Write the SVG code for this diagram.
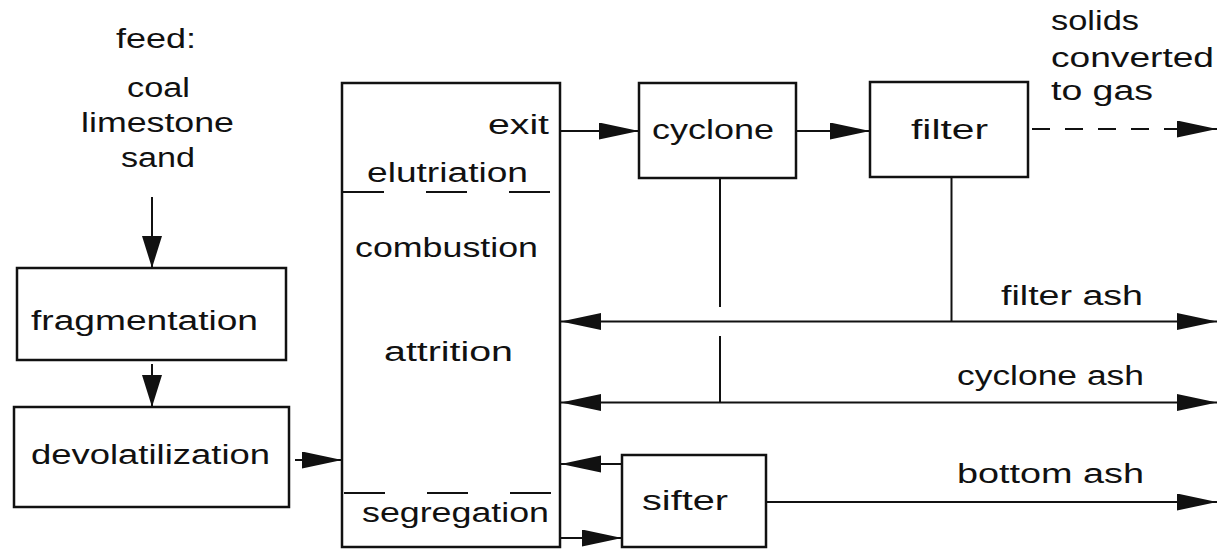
<svg xmlns="http://www.w3.org/2000/svg" width="1219" height="549" viewBox="0 0 1219 549">
<style>
text{font-family:"Liberation Sans",Arial,sans-serif;font-size:27px;fill:#111}
.box{fill:none;stroke:#111;stroke-width:2.5}
.ln{fill:none;stroke:#111;stroke-width:2}
.dash{fill:none;stroke:#111;stroke-width:2;stroke-dasharray:41 42}
</style>
<defs>
<marker id="ah" markerUnits="userSpaceOnUse" markerWidth="42" markerHeight="18" refX="40" refY="8.5" orient="auto-start-reverse"><path d="M0,0 L40,8.5 L0,17 z" fill="#111"/></marker>
<marker id="av" markerUnits="userSpaceOnUse" markerWidth="34" markerHeight="22" refX="32" refY="10" orient="auto"><path d="M0,0 L32,10 L0,20 z" fill="#111"/></marker>
</defs>
<g id="feed">
<text x="116" y="48" textLength="80" lengthAdjust="spacingAndGlyphs">feed:</text>
<text x="127" y="97" textLength="63" lengthAdjust="spacingAndGlyphs">coal</text>
<text x="81" y="132" textLength="153" lengthAdjust="spacingAndGlyphs">limestone</text>
<text x="121" y="167" textLength="74" lengthAdjust="spacingAndGlyphs">sand</text>
</g>
<g id="fragmentation">
<rect class="box" x="17" y="268" width="269" height="92"/>
<text x="31" y="330" textLength="227" lengthAdjust="spacingAndGlyphs">fragmentation</text>
</g>
<g id="devolatilization">
<rect class="box" x="14" y="407" width="275" height="100"/>
<text x="31" y="464" textLength="239" lengthAdjust="spacingAndGlyphs">devolatilization</text>
</g>
<g id="bed">
<rect class="box" x="342" y="83" width="218" height="464"/>
<text x="488" y="134" textLength="61" lengthAdjust="spacingAndGlyphs">exit</text>
<text x="367" y="182" textLength="161" lengthAdjust="spacingAndGlyphs">elutriation</text>
<line class="dash" x1="343" y1="192" x2="551" y2="192"/>
<text x="355" y="257" textLength="183" lengthAdjust="spacingAndGlyphs">combustion</text>
<text x="384" y="361" textLength="129" lengthAdjust="spacingAndGlyphs">attrition</text>
<line class="dash" x1="344" y1="493" x2="551" y2="493"/>
<text x="362" y="522" textLength="187" lengthAdjust="spacingAndGlyphs">segregation</text>
</g>
<g id="cyclone">
<rect class="box" x="639" y="83" width="157" height="95"/>
<text x="652" y="139" textLength="122" lengthAdjust="spacingAndGlyphs">cyclone</text>
</g>
<g id="filter">
<rect class="box" x="870" y="82" width="158" height="95"/>
<text x="911" y="139" textLength="77" lengthAdjust="spacingAndGlyphs">filter</text>
</g>
<g id="sifter">
<rect class="box" x="622" y="455" width="144" height="92"/>
<text x="642" y="510" textLength="86" lengthAdjust="spacingAndGlyphs">sifter</text>
</g>
<g id="labels">
<text x="1051" y="30" textLength="88" lengthAdjust="spacingAndGlyphs">solids</text>
<text x="1051" y="67" textLength="163" lengthAdjust="spacingAndGlyphs">converted</text>
<text x="1051" y="100" textLength="102" lengthAdjust="spacingAndGlyphs">to gas</text>
<text x="1001" y="305" textLength="142" lengthAdjust="spacingAndGlyphs">filter ash</text>
<text x="957" y="385" textLength="187" lengthAdjust="spacingAndGlyphs">cyclone ash</text>
<text x="957" y="483" textLength="187" lengthAdjust="spacingAndGlyphs">bottom ash</text>
</g>
<g id="connectors">
<line class="ln" x1="152" y1="197" x2="152" y2="268" marker-end="url(#av)"/>
<line class="ln" x1="152" y1="364" x2="152" y2="407" marker-end="url(#av)"/>
<line class="ln" x1="295" y1="460" x2="342" y2="460" marker-end="url(#ah)"/>
<line class="ln" x1="560" y1="131" x2="639" y2="131" marker-end="url(#ah)"/>
<line class="ln" x1="796" y1="131" x2="870" y2="131" marker-end="url(#ah)"/>
<line class="ln" x1="1032" y1="129" x2="1217" y2="129" stroke-dasharray="18 15"/>
<line class="ln" x1="1170" y1="129" x2="1217" y2="129" marker-end="url(#ah)"/>
<line class="ln" x1="720" y1="178" x2="720" y2="307"/>
<line class="ln" x1="720" y1="336" x2="720" y2="402.5"/>
<line class="ln" x1="951.5" y1="177" x2="951.5" y2="321.5"/>
<line class="ln" x1="561" y1="321.5" x2="1217" y2="321.5" marker-start="url(#ah)" marker-end="url(#ah)"/>
<line class="ln" x1="561" y1="402.5" x2="1217" y2="402.5" marker-start="url(#ah)" marker-end="url(#ah)"/>
<line class="ln" x1="622" y1="464" x2="561" y2="464" marker-end="url(#ah)"/>
<line class="ln" x1="561" y1="538" x2="622" y2="538" marker-end="url(#ah)"/>
<line class="ln" x1="766" y1="502" x2="1217" y2="502" marker-end="url(#ah)"/>
</g>
</svg>
